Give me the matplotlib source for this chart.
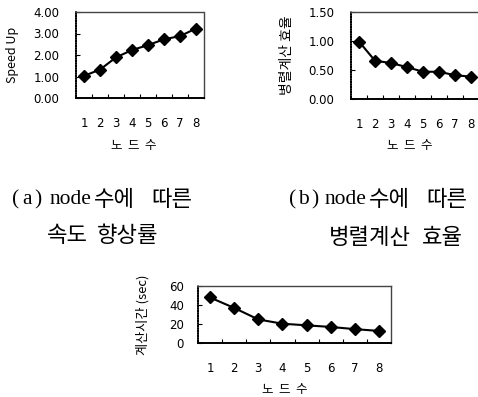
import matplotlib
matplotlib.use("Agg")
import matplotlib.pyplot as plt

plt.rcParams['font.family'] = ['DejaVu Sans', 'Noto Sans CJK KR']

nodes = [1, 2, 3, 4, 5, 6, 7, 8]
speedup = [1.03, 1.32, 1.89, 2.23, 2.46, 2.73, 2.88, 3.23]
efficiency = [0.99, 0.66, 0.62, 0.55, 0.47, 0.47, 0.41, 0.385]
calc_time = [47.9, 36.9, 24.8, 20.3, 18.6, 16.9, 14.6, 12.7]

yticks_a = [0, 1, 2, 3, 4]
yticks_b = [0, 0.5, 1.0, 1.5]
yticks_c = [0, 20, 40, 60]

W, H = 478, 397
fig = plt.figure(figsize=(W / 100, H / 100), dpi=100)
KR = ['Noto Sans CJK KR', 'DejaVu Sans']
SERIF = ['Liberation Serif', 'Noto Sans CJK KR']


def make_ax(l, r, t, b):
    return fig.add_axes([l / W, 1 - b / H, (r - l) / W, (b - t) / H])


def style(ax, y, yticks, fmt, ylim, ylabel, ypad, xpad, ylab_pad, ylab_size):
    ax.plot(nodes, y, color='black', lw=1.5, marker='D', ms=6.5,
            mfc='black', mec='black', zorder=3, clip_on=False)
    ax.set_xlim(0.5, 8.5)
    ax.set_ylim(*ylim)
    ax.set_xticks(nodes)
    ax.set_xticklabels([str(n) for n in nodes], fontsize=8.5)
    ax.set_yticks(yticks)
    ax.set_yticklabels([fmt.format(v) for v in yticks], fontsize=8.5)
    ax.tick_params(axis='x', length=0, pad=xpad)
    ax.tick_params(axis='y', direction='in', length=3, pad=ypad, width=0.8)
    ax.set_xticks([n + 0.5 for n in nodes[:-1]], minor=True)
    ax.tick_params(axis='x', which='minor', direction='in', length=3, width=0.8)
    for s in ['top', 'right']:
        ax.spines[s].set_linestyle((0, (1, 1)))
        ax.spines[s].set_color('#444444')
        ax.spines[s].set_linewidth(1.0)
    ax.spines['left'].set_linestyle((0, (1, 0.5)))
    ax.spines['left'].set_linewidth(1.2)
    ax.spines['bottom'].set_linewidth(1.4)
    ax.set_ylabel(ylabel, fontsize=ylab_size, family=KR, labelpad=ylab_pad)


ax_a = make_ax(76, 204, 12, 98)
style(ax_a, speedup, yticks_a, '{:.2f}', (0, 4), 'Speed Up', 12, 14, 10, 9)
ax_a.set_xlabel('노  드  수', fontsize=9, family=KR)
ax_a.xaxis.set_label_coords((134 - 76) / 128, -(146 - 98) / 86)
ax_a.xaxis.label.set_va('center')

ax_b = make_ax(351, 479, 12, 99)
style(ax_b, efficiency, yticks_b, '{:.2f}', (0, 1.5), '병렬계산 효율', 12, 14, 10, 10)
ax_b.set_xlabel('노  드  수', fontsize=9, family=KR)
ax_b.xaxis.set_label_coords((410 - 351) / 128, -(146 - 99) / 87)
ax_b.xaxis.label.set_va('center')

ax_c = make_ax(198, 391, 286, 343)
style(ax_c, calc_time, yticks_c, '{:.0f}', (0, 60), '계산시간 (sec)', 10, 14, 14, 9.5)
ax_c.set_xlabel('노  드  수', fontsize=9, family=KR)
ax_c.xaxis.set_label_coords((285 - 198) / 193, -(389 - 343) / 57)
ax_c.xaxis.label.set_va('center')

# caption pieces (text, x pixel of left edge, y pixel of centre, family)
captions = [
    ('(', 12, 200, SERIF), ('a', 22, 200, SERIF), (')', 34, 200, SERIF),
    ('node', 50, 200, SERIF), ('수에', 94, 200, KR), ('따른', 151, 200, KR),
    ('속도', 47, 236, KR), ('향상률', 97, 236, KR),
    ('(', 289, 200, SERIF), ('b', 298, 200, SERIF), (')', 311, 200, SERIF),
    ('node', 325, 200, SERIF), ('수에', 369, 200, KR), ('따른', 426, 200, KR),
    ('병렬계산', 329, 238, KR), ('효율', 422, 238, KR),
]
for txt, px, py, fam in captions:
    fs = 15.5 if fam is SERIF else 16
    fig.text(px / W, 1 - py / H, txt, fontsize=fs, family=fam,
             va='center', ha='left')

fig.savefig('out.png', dpi=100)
